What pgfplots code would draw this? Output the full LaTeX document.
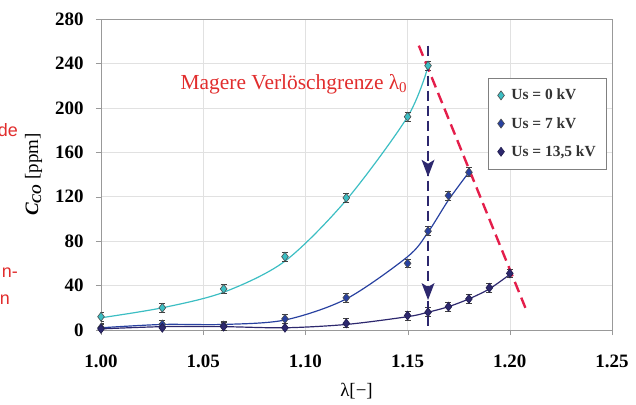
\documentclass[border=0pt]{standalone}
\usepackage{pgfplots}
\pgfplotsset{compat=1.18}
\usepackage{fontspec}
\setmainfont{Liberation Serif}
\newfontfamily\sansred{Liberation Sans}
\usetikzlibrary{arrows.meta}

\definecolor{cyanline}{RGB}{60,190,195}
\definecolor{blueline}{RGB}{40,65,160}
\definecolor{navyline}{RGB}{45,40,110}
\definecolor{redtxt}{RGB}{225,45,45}
\definecolor{reddash}{RGB}{228,30,75}
\definecolor{gridgray}{RGB}{225,225,225}

% measured points
\pgfplotstableread{
x y
1.00 12
1.03 20
1.06 37
1.09 66
1.12 119
1.15 192
1.16 238
}\usnull
\pgfplotstableread{
x y
1.00 2
1.03 5
1.06 4
1.09 10
1.12 29
1.15 60
1.16 89
1.17 121
1.18 142
}\ussieben
\pgfplotstableread{
x y
1.00 1
1.03 2
1.06 3
1.09 2
1.12 6
1.15 13
1.16 16
1.17 21
1.18 28
1.19 38
1.20 51
}\usdreizehn

\begin{document}
\begin{tikzpicture}
\useasboundingbox (-101bp,-75bp) rectangle (535bp,330bp);
\node[font=\sansred\fontsize{18}{18}\selectfont, text=redtxt, anchor=east, inner sep=0pt] at (-83bp,200bp) {de};
\node[font=\sansred\fontsize{18}{18}\selectfont, text=redtxt, anchor=east, inner sep=0pt] at (-83bp,57bp) {n-};
\node[font=\sansred\fontsize{18}{18}\selectfont, text=redtxt, anchor=east, inner sep=0pt] at (-91bp,30bp) {n};
\begin{axis}[
    at={(0,0)}, anchor=south west,
    scale only axis,
    width=511bp, height=311bp,
    xmin=1.00, xmax=1.25,
    ymin=0, ymax=280,
    xtick={1.00,1.05,...,1.25},
    ytick={0,40,...,280},
    xticklabel style={/pgf/number format/.cd, fixed, fixed zerofill, precision=2, /tikz/.cd, yshift=-16bp},
    yticklabel style={xshift=-9bp},
    tick label style={font=\bfseries\fontsize{19}{19}\selectfont},
    /pgf/number format/assume math mode=true,
    tick align=outside,
    tick pos=left,
    major tick length=5bp,
    axis line style={draw=gray!80},
    tick style={draw=gray!80},
    grid=major,
    grid style={draw=gridgray, line width=0.6pt},
    xlabel={λ[−]},
    ylabel={\textbf{\textit{C}}\textsubscript{\textbf{\textit{CO}}} [ppm]},
    label style={font=\fontsize{19}{19}\selectfont},
    xlabel style={yshift=-9bp},
    ylabel style={yshift=6bp},
    legend style={at={(rel axis cs:0.990,0.810)}, anchor=north east,
        draw=gray, fill=white, font=\bfseries\fontsize{15.5}{15.5}\selectfont,
        row sep=12bp, inner xsep=9bp, inner ysep=9bp, text=black!80,
        /tikz/every odd column/.append style={column sep=5bp}},
    legend cell align=left,
    every axis plot/.append style={line width=1.2pt},
]
% trend lines
\addplot[cyanline, smooth, forget plot] coordinates {
(1.00,11) (1.03,20) (1.06,34) (1.09,62) (1.12,117) (1.15,192) (1.16,237)};
\addplot[blueline, smooth, forget plot] coordinates {
(1.00,2) (1.03,5) (1.06,5) (1.09,9) (1.12,28) (1.15,66) (1.16,88) (1.17,117) (1.18,142)};
\addplot[navyline, smooth, forget plot] coordinates {
(1.00,1) (1.03,3) (1.06,3) (1.09,2) (1.12,5) (1.15,12) (1.16,16) (1.17,21) (1.18,28) (1.19,37) (1.20,50)};
% measured points with error bars
\addplot[only marks, mark=diamond*, mark size=4.5bp,
    mark options={fill=cyanline, draw=black!70, line width=0.6pt},
    error bars/.cd, y dir=both, y fixed=4,
    error bar style={black!75, line width=0.8pt},
    error mark options={rotate=90, mark size=3bp, black!75, line width=0.8pt}]
    table[x=x, y=y] {\usnull};
\addlegendentry{Us = 0 kV}
\addplot[only marks, mark=diamond*, mark size=4.5bp,
    mark options={fill=blueline, draw=black!70, line width=0.6pt},
    error bars/.cd, y dir=both, y fixed=4,
    error bar style={black!75, line width=0.8pt},
    error mark options={rotate=90, mark size=3bp, black!75, line width=0.8pt}]
    table[x=x, y=y] {\ussieben};
\addlegendentry{Us = 7 kV}
\addplot[only marks, mark=diamond*, mark size=4.5bp,
    mark options={fill=navyline, draw=navyline!70!black, line width=0.6pt},
    error bars/.cd, y dir=both, y fixed=4,
    error bar style={black!75, line width=0.8pt},
    error mark options={rotate=90, mark size=3bp, black!75, line width=0.8pt}]
    table[x=x, y=y] {\usdreizehn};
\addlegendentry{Us = 13,5 kV}
% annotations
\draw[reddash, line width=2.4pt, dash pattern=on 11bp off 6bp]
    (axis cs:1.1555,256) -- (axis cs:1.2085,16);
\draw[navyline, line width=2.4pt, dash pattern=on 10bp off 5bp]
    (axis cs:1.16,256) -- (axis cs:1.16,-1);
\fill[navyline] (axis cs:1.16,138) -- ++(-6.5bp,17bp) -- ++(6.5bp,-4bp) -- ++(6.5bp,4bp) -- cycle;
\fill[navyline] (axis cs:1.16,27) -- ++(-6.5bp,17bp) -- ++(6.5bp,-4bp) -- ++(6.5bp,4bp) -- cycle;
\node[text=redtxt, font=\fontsize{21.5}{21.5}\selectfont] at (axis cs:1.0944,221.5) {Magere Verlöschgrenze λ\textsubscript{0}};
\end{axis}
\end{tikzpicture}
\end{document}
